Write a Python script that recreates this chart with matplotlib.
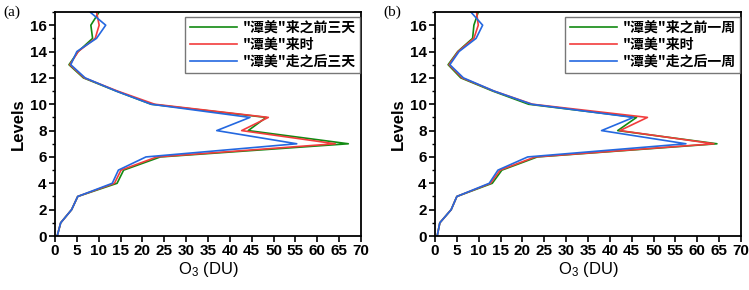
import numpy as np
import matplotlib
matplotlib.use("Agg")
import matplotlib.pyplot as plt
from matplotlib.ticker import MultipleLocator

plt.rcParams['font.family'] = ['Liberation Sans', 'Noto Sans CJK SC', 'DejaVu Sans']
plt.rcParams['font.weight'] = 'bold'
plt.rcParams['mathtext.fontset'] = 'custom'
plt.rcParams['mathtext.rm'] = 'Liberation Sans'
plt.rcParams['mathtext.default'] = 'regular'

levels = np.arange(0, 18)

# panel (a): three days before / during / three days after
a_before = [0.5, 1.3, 3.8, 5.2, 14.2, 15.7, 24.1, 67.1, 44.2, 48.3, 22.0, 14.0, 6.5, 3.2, 5.3, 8.6, 8.2, 10.1]
a_during = [0.5, 1.3, 3.8, 5.2, 13.6, 15.1, 23.3, 64.1, 42.7, 48.8, 22.8, 14.3, 6.7, 3.4, 5.3, 9.2, 10.1, 9.5]
a_after = [0.5, 1.3, 3.8, 5.2, 13.1, 14.5, 20.8, 55.3, 37.0, 44.6, 22.0, 14.0, 6.9, 3.6, 5.0, 9.5, 11.6, 8.0]

# panel (b): one week before / during / one week after
b_before = [0.5, 1.1, 3.7, 5.0, 13.1, 15.3, 23.4, 64.5, 41.8, 46.1, 21.4, 13.2, 5.9, 3.0, 5.2, 8.6, 8.9, 9.9]
b_during = [0.5, 1.1, 3.7, 5.0, 12.7, 14.9, 22.9, 63.8, 42.3, 48.6, 22.3, 13.5, 6.2, 3.2, 5.3, 8.9, 9.9, 9.5]
b_after = [0.5, 1.1, 3.7, 5.0, 12.4, 14.4, 21.2, 57.4, 38.1, 45.4, 22.1, 13.5, 6.5, 3.4, 5.5, 9.4, 10.9, 8.2]

labels_a = ['"潭美"来之前三天', '"潭美"来时', '"潭美"走之后三天']
labels_b = ['"潭美"来之前一周', '"潭美"来时', '"潭美"走之后一周']
colors = ['#128a12', '#f23c3c', '#2468e0']

fig = plt.figure(figsize=(7.49, 2.90), dpi=100)
W, H = 749, 290
ax_a = fig.add_axes([55 / W, 1 - 236 / H, 306 / W, 224 / H])
ax_b = fig.add_axes([435 / W, 1 - 236 / H, 306 / W, 224 / H])

for ax, series, labels, tag in [(ax_a, [a_before, a_during, a_after], labels_a, '(a)'),
                                (ax_b, [b_before, b_during, b_after], labels_b, '(b)')]:
    for vals, lab, c in zip(series, labels, colors):
        ax.plot(vals, levels, color=c, lw=1.2, label=lab)
    ax.set_xlim(0, 70)
    ax.set_ylim(0, 17)
    ax.xaxis.set_major_locator(MultipleLocator(5))
    ax.yaxis.set_major_locator(MultipleLocator(2))
    ax.yaxis.set_minor_locator(MultipleLocator(1))
    ax.tick_params(axis='both', which='major', direction='out', length=4, width=1.2,
                   labelsize=11, pad=2)
    ax.tick_params(axis='y', which='minor', direction='out', length=2.5, width=1)
    for s in ax.spines.values():
        s.set_linewidth(1.3)
    ax.set_xlabel('O$_3$ (DU)', fontsize=12, fontweight='normal', labelpad=1)
    ax.set_ylabel('Levels', fontsize=12, fontweight='bold', labelpad=3)
    leg = ax.legend(loc='upper right', bbox_to_anchor=(1.0, 0.985),
                    frameon=True, fancybox=False, handlelength=3.4, handletextpad=0.4,
                    borderpad=0.3, labelspacing=0.2, borderaxespad=0.1,
                    prop={'family': ['Noto Sans CJK SC'], 'weight': 'bold', 'size': 10})
    leg.get_frame().set_edgecolor('#555555')
    leg.get_frame().set_linewidth(1.0)
    ax.text(-0.17, 1.0, tag, transform=ax.transAxes, fontsize=11, fontweight='normal',
            family='Liberation Serif', va='center', ha='left')

fig.savefig('out.png', dpi=100)
